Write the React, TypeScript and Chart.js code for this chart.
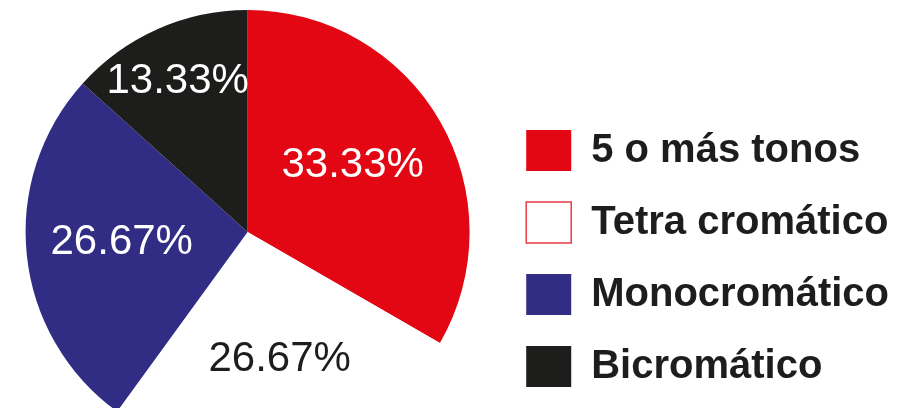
import { useEffect, useRef } from 'react';
import { Chart, registerables } from 'chart.js';

Chart.register(...registerables);

const categories = ['5 o más tonos', 'Tetra cromático', 'Monocromático', 'Bicromático'];
const percentages = [33.33, 26.67, 26.67, 13.33];
const sliceColors = ['#e30613', '#ffffff', '#312d85', '#1d1d1b'];
const labelColors = ['#ffffff', '#1d1d1b', '#ffffff', '#ffffff'];
const labelRadius = [0.56, 0.592, 0.569, 0.748];
const labelAngleShiftDeg = [-2.3, -2.1, 1.2, -0.9];

const W = 899;
const H = 470;

export default function App() {
  const ref = useRef<HTMLCanvasElement>(null);

  useEffect(() => {
    if (!ref.current) return;
    const labelPlugin = {
      id: 'sliceLabels',
      afterDatasetsDraw(chart: any) {
        const ctx = chart.ctx as CanvasRenderingContext2D;
        const meta = chart.getDatasetMeta(0);
        ctx.save();
        ctx.font = '42px "Liberation Sans", Arial, sans-serif';
        ctx.textAlign = 'center';
        ctx.textBaseline = 'middle';
        meta.data.forEach((arc: any, i: number) => {
          const { x, y, startAngle, endAngle, outerRadius } = arc.getProps(
            ['x', 'y', 'startAngle', 'endAngle', 'outerRadius'],
            true
          );
          const mid = (startAngle + endAngle) / 2 + (labelAngleShiftDeg[i] * Math.PI) / 180;
          const r = outerRadius * labelRadius[i];
          ctx.fillStyle = labelColors[i];
          ctx.fillText(percentages[i].toFixed(2) + '%', x + Math.cos(mid) * r, y + Math.sin(mid) * r);
        });
        ctx.restore();
      },
    };

    const baseGen = (Chart as any).overrides.doughnut.plugins.legend.labels.generateLabels;

    const chart = new Chart(ref.current, {
      type: 'pie',
      data: {
        labels: categories,
        datasets: [
          {
            data: percentages,
            backgroundColor: sliceColors,
            borderWidth: 0,
          },
        ],
      },
      options: {
        responsive: false,
        animation: false,
        layout: { padding: { top: 10, bottom: 16, left: 0, right: 0 } },
        plugins: {
          tooltip: { enabled: false },
          legend: {
            position: 'right',
            align: 'center',
            title: { display: true, text: '', padding: 20.5, font: { size: 10 } },
            labels: {
              boxWidth: 45,
              boxHeight: 41,
              padding: 31,
              color: '#1d1d1b',
              font: { family: '"Liberation Sans", Arial, sans-serif', size: 40, weight: 'bold' },
              generateLabels: (c: any) => {
                const items = baseGen(c);
                return items.map((it: any, i: number) => ({
                  ...it,
                  strokeStyle: i === 1 ? '#e63a47' : sliceColors[i],
                  lineWidth: i === 1 ? 1.5 : 0,
                }));
              },
            },
          },
        },
      },
      plugins: [labelPlugin],
    });
    return () => chart.destroy();
  }, []);

  return (
    <div style={{ position: 'absolute', left: 0, top: 0, width: 897, height: 408, overflow: 'hidden' }}>
      <canvas ref={ref} width={W} height={H} style={{ width: W, height: H, display: 'block' }} />
    </div>
  );
}
